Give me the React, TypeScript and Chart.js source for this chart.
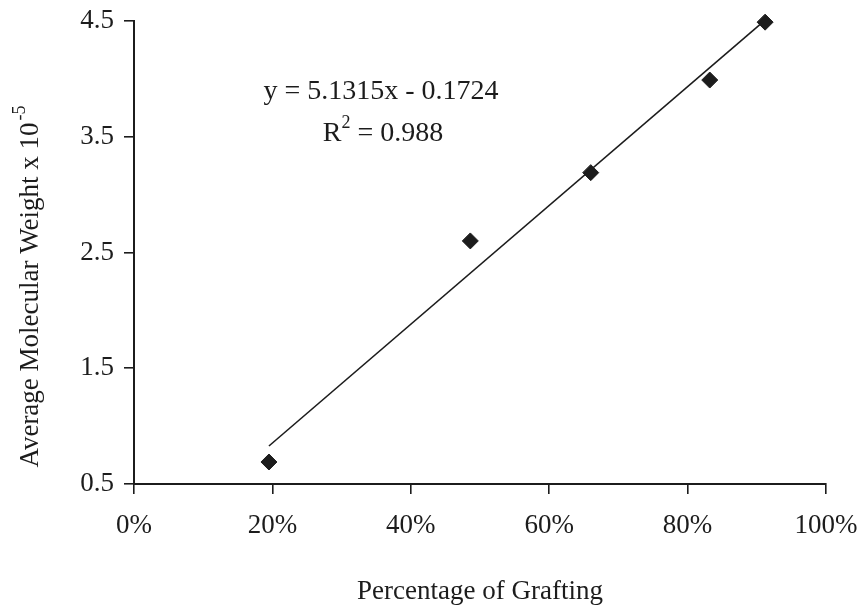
import React, { useEffect, useRef } from "react";
import { Chart, registerables } from "chart.js";

Chart.register(...registerables);

// Percentage of grafting (fraction) and average molecular weight (x 10^-5)
const graftingPct = [0.195, 0.486, 0.66, 0.832, 0.912];
const molWeight = [0.69, 2.6, 3.19, 3.99, 4.49];

// Trend line from the fitted equation y = 5.1315x - 0.1724
const trendSlope = 5.1315;
const trendIntercept = -0.1724;
const trendRange = [0.195, 0.912];

const xTicks = [0, 0.2, 0.4, 0.6, 0.8, 1.0];
const yTicks = [0.5, 1.5, 2.5, 3.5, 4.5];

const eqText = "y = 5.1315x - 0.1724";
const r2Value = "0.988";
const yTitleMain = "Average Molecular Weight x 10";
const yTitleSup = "-5";
const xTitle = "Percentage of Grafting";

const FONT = "'Liberation Serif', 'Times New Roman', serif";
const INK = "#1c1c1c";

const annotationPlugin = {
  id: "annotations",
  afterDraw(chart: any) {
    const ctx = chart.ctx;
    const area = chart.chartArea;
    ctx.save();
    ctx.fillStyle = INK;
    ctx.textBaseline = "middle";

    // Equation
    ctx.font = `28px ${FONT}`;
    ctx.textAlign = "center";
    const eqX = chart.scales.x.getPixelForValue(0.357);
    const eqY = chart.scales.y.getPixelForValue(3.89);
    ctx.fillText(eqText, eqX, eqY);

    // R^2 line
    const r2Y = chart.scales.y.getPixelForValue(3.53);
    const rest = " = " + r2Value;
    ctx.font = `28px ${FONT}`;
    const wR = ctx.measureText("R").width;
    const wRest = ctx.measureText(rest).width;
    ctx.font = `18px ${FONT}`;
    const wSup = ctx.measureText("2").width;
    const total = wR + wSup + wRest;
    const sx = eqX - total / 2 + 2;
    ctx.textAlign = "left";
    ctx.font = `28px ${FONT}`;
    ctx.fillText("R", sx, r2Y);
    ctx.font = `18px ${FONT}`;
    ctx.fillText("2", sx + wR, r2Y - 10);
    ctx.font = `28px ${FONT}`;
    ctx.fillText(rest, sx + wR + wSup, r2Y);

    // Y axis title (rotated, with superscript)
    ctx.save();
    const cy = (area.top + area.bottom) / 2 + 34;
    ctx.translate(31, cy);
    ctx.rotate(-Math.PI / 2);
    ctx.font = `27px ${FONT}`;
    const wMain = ctx.measureText(yTitleMain).width;
    ctx.font = `18px ${FONT}`;
    const wS = ctx.measureText(yTitleSup).width;
    const tot = wMain + wS + 2;
    ctx.textAlign = "left";
    ctx.font = `27px ${FONT}`;
    ctx.fillText(yTitleMain, -tot / 2, 0);
    ctx.font = `18px ${FONT}`;
    ctx.fillText(yTitleSup, -tot / 2 + wMain + 2, -11);
    ctx.restore();

    ctx.restore();
  },
};

export default function App() {
  const canvasRef = useRef<HTMLCanvasElement | null>(null);

  useEffect(() => {
    document.body.style.margin = "0";
    const canvas = canvasRef.current;
    if (!canvas) return;

    const scatterData = graftingPct.map((x, i) => ({ x, y: molWeight[i] }));
    const trendData = trendRange.map((x) => ({ x, y: trendSlope * x + trendIntercept }));

    const chart = new Chart(canvas, {
      type: "scatter",
      data: {
        datasets: [
          {
            type: "line",
            label: "Trend",
            data: trendData,
            borderColor: INK,
            borderWidth: 1.6,
            pointRadius: 0,
            fill: false,
            clip: false,
          } as any,
          {
            label: "Data",
            data: scatterData,
            pointStyle: "rectRot",
            pointRadius: 8,
            pointBackgroundColor: INK,
            pointBorderColor: INK,
            pointBorderWidth: 1,
            clip: false,
          } as any,
        ],
      },
      options: {
        animation: false,
        responsive: false,
        maintainAspectRatio: false,
        layout: { padding: { left: 0, right: 38, top: 21, bottom: 0 } },
        plugins: {
          legend: { display: false },
          tooltip: { enabled: false },
        },
        scales: {
          x: {
            type: "linear",
            min: 0,
            max: 1,
            afterBuildTicks: (scale: any) => {
              scale.ticks = xTicks.map((v) => ({ value: v }));
            },
            afterFit: (scale: any) => {
              scale.height = 126;
              scale.paddingLeft = 0;
              scale.paddingRight = 38;
            },
            ticks: {
              color: INK,
              font: { family: FONT, size: 27 },
              padding: 16,
              maxRotation: 0,
              callback: (v: any) => Math.round(Number(v) * 100) + "%",
            },
            grid: {
              drawOnChartArea: false,
              drawTicks: true,
              tickLength: 10,
              color: INK,
              lineWidth: 1.6,
            },
            border: { display: true, color: INK, width: 2 },
            title: {
              display: true,
              text: xTitle,
              color: INK,
              font: { family: FONT, size: 27 },
              padding: { top: 0, bottom: 2 },
            },
          },
          y: {
            type: "linear",
            min: 0.5,
            max: 4.5,
            afterBuildTicks: (scale: any) => {
              scale.ticks = yTicks.map((v) => ({ value: v }));
            },
            afterFit: (scale: any) => {
              scale.width = 134;
              scale.paddingTop = 21;
              scale.paddingBottom = 0;
            },
            ticks: {
              color: INK,
              font: { family: FONT, size: 27 },
              padding: 10,
              callback: (v: any) => Number(v).toFixed(1),
            },
            grid: {
              drawOnChartArea: false,
              drawTicks: true,
              tickLength: 10,
              color: INK,
              lineWidth: 1.6,
            },
            border: { display: true, color: INK, width: 2 },
          },
        },
      },
      plugins: [annotationPlugin],
    });

    return () => chart.destroy();
  }, []);

  return (
    <div style={{ width: 864, height: 610, background: "#fff" }}>
      <canvas ref={canvasRef} width={864} height={610} style={{ display: "block" }} />
    </div>
  );
}
